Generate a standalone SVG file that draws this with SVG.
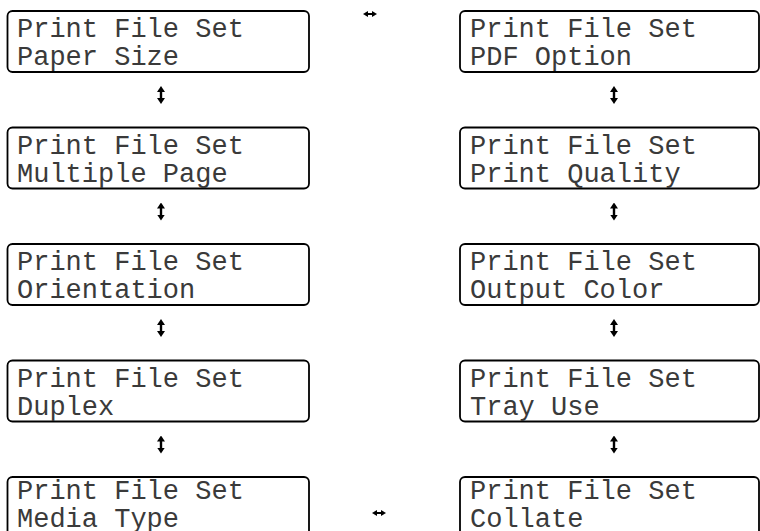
<svg xmlns="http://www.w3.org/2000/svg" width="760" height="531" viewBox="0 0 760 531">
<defs>
<style>
.box{fill:#fff;stroke:#000;stroke-width:1.8}
.t{font-family:"Liberation Mono","DejaVu Sans Mono",monospace;font-size:27px;fill:#3a3a3a}
.c{stroke:#000;stroke-width:2.4;fill:none}
.ch{stroke:#000;stroke-width:2;fill:none}
</style>
<marker id="ah" viewBox="0 0 6 8" refX="1" refY="4" markerWidth="6" markerHeight="8" markerUnits="userSpaceOnUse" orient="auto-start-reverse">
<path d="M0,0 L6,4 L0,8 Z" fill="#000"/>
</marker>
<marker id="ahs" viewBox="0 0 5 6" refX="1" refY="3" markerWidth="5" markerHeight="6" markerUnits="userSpaceOnUse" orient="auto-start-reverse">
<path d="M0,0 L5,3 L0,6 Z" fill="#000"/>
</marker>
</defs>
<rect width="760" height="531" fill="#fff"/>
<g id="n1"><rect class="box" x="7.5" y="11" width="301.5" height="61" rx="5"/><text class="t" x="17" y="37">Print File Set</text><text class="t" x="17" y="65">Paper Size</text></g>
<g id="n2"><rect class="box" x="7.5" y="127.5" width="301.5" height="61" rx="5"/><text class="t" x="17" y="153.5">Print File Set</text><text class="t" x="17" y="181.5">Multiple Page</text></g>
<g id="n3"><rect class="box" x="7.5" y="244" width="301.5" height="61" rx="5"/><text class="t" x="17" y="270">Print File Set</text><text class="t" x="17" y="298">Orientation</text></g>
<g id="n4"><rect class="box" x="7.5" y="360.5" width="301.5" height="61" rx="5"/><text class="t" x="17" y="386.5">Print File Set</text><text class="t" x="17" y="414.5">Duplex</text></g>
<g id="n5"><rect class="box" x="7.5" y="477" width="301.5" height="61" rx="5"/><text class="t" x="17" y="499">Print File Set</text><text class="t" x="17" y="527">Media Type</text></g>
<g id="n6"><rect class="box" x="460" y="11" width="299" height="61" rx="5"/><text class="t" x="470" y="37">Print File Set</text><text class="t" x="470" y="65">PDF Option</text></g>
<g id="n7"><rect class="box" x="460" y="127.5" width="299" height="61" rx="5"/><text class="t" x="470" y="153.5">Print File Set</text><text class="t" x="470" y="181.5">Print Quality</text></g>
<g id="n8"><rect class="box" x="460" y="244" width="299" height="61" rx="5"/><text class="t" x="470" y="270">Print File Set</text><text class="t" x="470" y="298">Output Color</text></g>
<g id="n9"><rect class="box" x="460" y="360.5" width="299" height="61" rx="5"/><text class="t" x="470" y="386.5">Print File Set</text><text class="t" x="470" y="414.5">Tray Use</text></g>
<g id="n10"><rect class="box" x="460" y="477" width="299" height="61" rx="5"/><text class="t" x="470" y="499">Print File Set</text><text class="t" x="470" y="527">Collate</text></g>
<g id="connectors">
<line class="c" x1="161" y1="91" x2="161" y2="99" marker-start="url(#ah)" marker-end="url(#ah)"/>
<line class="c" x1="161" y1="207.5" x2="161" y2="215.5" marker-start="url(#ah)" marker-end="url(#ah)"/>
<line class="c" x1="161" y1="324" x2="161" y2="332" marker-start="url(#ah)" marker-end="url(#ah)"/>
<line class="c" x1="161" y1="440.5" x2="161" y2="448.5" marker-start="url(#ah)" marker-end="url(#ah)"/>
<line class="c" x1="614" y1="91" x2="614" y2="99" marker-start="url(#ah)" marker-end="url(#ah)"/>
<line class="c" x1="614" y1="207.5" x2="614" y2="215.5" marker-start="url(#ah)" marker-end="url(#ah)"/>
<line class="c" x1="614" y1="324" x2="614" y2="332" marker-start="url(#ah)" marker-end="url(#ah)"/>
<line class="c" x1="614" y1="440.5" x2="614" y2="448.5" marker-start="url(#ah)" marker-end="url(#ah)"/>
<line class="ch" x1="367" y1="14" x2="373" y2="14" marker-start="url(#ahs)" marker-end="url(#ahs)"/>
<line class="ch" x1="376" y1="513" x2="382" y2="513" marker-start="url(#ahs)" marker-end="url(#ahs)"/>
</g>
</svg>
